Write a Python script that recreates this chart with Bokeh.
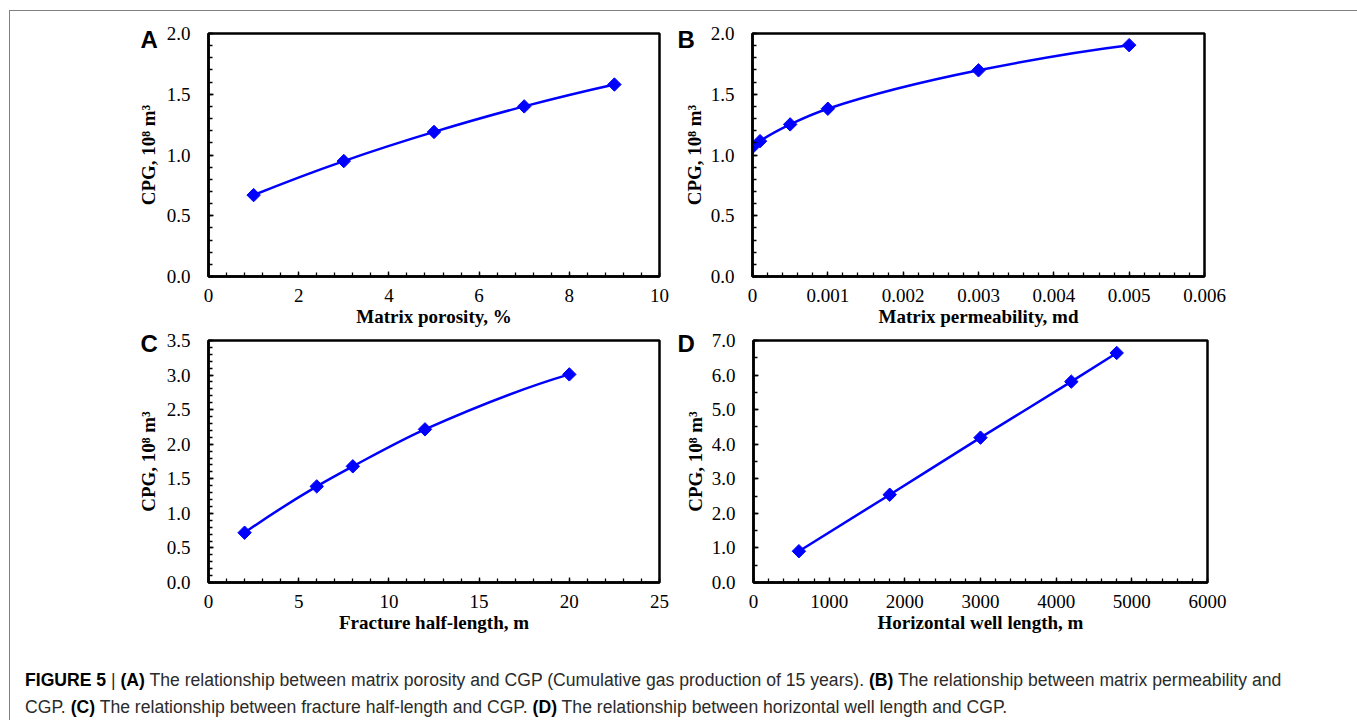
import numpy as np
from bokeh.plotting import figure
from bokeh.layouts import row, column
from bokeh.models import Div, FixedTicker, Range1d, ColumnDataSource, Title
from bokeh.embed import file_html
from bokeh.resources import INLINE

# ---------------- data ----------------
# (A) matrix porosity vs CGP
poro_x = [1, 3, 5, 7, 9]
poro_cpg = [0.67, 0.95, 1.19, 1.40, 1.58]
# (B) matrix permeability vs CGP
perm_x = [0.0, 0.0001, 0.0005, 0.001, 0.003, 0.005]
perm_cpg = [1.065, 1.114, 1.252, 1.381, 1.697, 1.904]
# (C) fracture half-length vs CGP
frac_x = [2, 6, 8, 12, 20]
frac_cpg = [0.72, 1.39, 1.68, 2.215, 3.01]
# (D) horizontal well length vs CGP
well_x = [600, 1800, 3000, 4200, 4800]
well_cpg = [0.905, 2.54, 4.19, 5.81, 6.64]

# ---------------- ticks / labels ----------------
a_xticks = [0, 2, 4, 6, 8, 10]
a_xlabels = ["0", "2", "4", "6", "8", "10"]
a_yticks = [0.0, 0.5, 1.0, 1.5, 2.0]
a_ylabels = ["0.0", "0.5", "1.0", "1.5", "2.0"]
b_xticks = [0.0, 0.001, 0.002, 0.003, 0.004, 0.005, 0.006]
b_xlabels = ["0", "0.001", "0.002", "0.003", "0.004", "0.005", "0.006"]
b_yticks = [0.0, 0.5, 1.0, 1.5, 2.0]
b_ylabels = ["0.0", "0.5", "1.0", "1.5", "2.0"]
c_xticks = [0, 5, 10, 15, 20, 25]
c_xlabels = ["0", "5", "10", "15", "20", "25"]
c_yticks = [0.0, 0.5, 1.0, 1.5, 2.0, 2.5, 3.0, 3.5]
c_ylabels = ["0.0", "0.5", "1.0", "1.5", "2.0", "2.5", "3.0", "3.5"]
d_xticks = [0, 1000, 2000, 3000, 4000, 5000, 6000]
d_xlabels = ["0", "1000", "2000", "3000", "4000", "5000", "6000"]
d_yticks = [0.0, 1.0, 2.0, 3.0, 4.0, 5.0, 6.0, 7.0]
d_ylabels = ["0.0", "1.0", "2.0", "3.0", "4.0", "5.0", "6.0", "7.0"]

x_titles = ["Matrix porosity, %", "Matrix permeability, md",
            "Fracture half-length, m", "Horizontal well length, m"]
y_title = "CPG, 10\u2078 m\u00b3"
letters = ["A", "B", "C", "D"]

caption_parts = [
    ("b", "FIGURE 5"), ("t", " | "), ("b", "(A)"),
    ("t", " The relationship between matrix porosity and CGP (Cumulative gas production of 15 years). "),
    ("b", "(B)"), ("t", " The relationship between matrix permeability and"), ("br", ""),
    ("t", "CGP. "), ("b", "(C)"), ("t", " The relationship between fracture half-length and CGP. "),
    ("b", "(D)"), ("t", " The relationship between horizontal well length and CGP."),
]

BLUE = "#0000FF"
SERIF = "Liberation Serif"


def smooth_segments(xs, ys):
    """Shape-preserving cubic (PCHIP) through the points, drawn as Bezier segments."""
    xs = np.asarray(xs, float); ys = np.asarray(ys, float)
    n = len(xs)
    h = np.diff(xs); d = np.diff(ys) / h
    m = np.zeros(n)
    for i in range(1, n - 1):
        if d[i - 1] * d[i] <= 0:
            m[i] = 0.0
        else:
            w1 = 2 * h[i] + h[i - 1]; w2 = h[i] + 2 * h[i - 1]
            m[i] = (w1 + w2) / (w1 / d[i - 1] + w2 / d[i])

    def end(h0, h1, d0, d1):
        v = ((2 * h0 + h1) * d0 - h0 * d1) / (h0 + h1)
        if v * d0 <= 0:
            return 0.0
        if d0 * d1 <= 0 and abs(v) > 3 * abs(d0):
            return 3 * d0
        return v
    m[0] = end(h[0], h[1], d[0], d[1])
    m[-1] = end(h[-1], h[-2], d[-1], d[-2])
    return dict(x0=list(xs[:-1]), y0=list(ys[:-1]), x1=list(xs[1:]), y1=list(ys[1:]),
                cx0=list(xs[:-1] + h / 3), cy0=list(ys[:-1] + m[:-1] * h / 3),
                cx1=list(xs[1:] - h / 3), cy1=list(ys[1:] - m[1:] * h / 3))


def panel(letter, xs, ys, xticks, xlabels, xminor_n, yticks, ylabels, yminor_n,
          xtitle, width, height, bl, br, bt, bb, ylab_standoff, let_dx, let_standoff):
    p = figure(width=width, height=height,
               x_range=Range1d(xticks[0], xticks[-1]),
               y_range=Range1d(yticks[0], yticks[-1]),
               output_backend="svg", toolbar_location=None,
               min_border_left=bl, min_border_right=br,
               min_border_top=bt, min_border_bottom=bb)
    p.grid.visible = False
    p.outline_line_color = "black"
    p.outline_line_width = 2.5
    p.outline_line_alpha = 1.0

    xminor = list(np.linspace(xticks[0], xticks[-1], (len(xticks) - 1) * xminor_n + 1))
    yminor = list(np.linspace(yticks[0], yticks[-1], (len(yticks) - 1) * yminor_n + 1))
    p.xaxis.ticker = FixedTicker(ticks=xticks, minor_ticks=xminor)
    p.yaxis.ticker = FixedTicker(ticks=yticks, minor_ticks=yminor)
    p.xaxis.major_label_overrides = dict(zip(xticks, xlabels))
    p.yaxis.major_label_overrides = dict(zip(yticks, ylabels))

    for ax in (p.xaxis[0], p.yaxis[0]):
        ax.axis_line_width = 2.5
        ax.axis_line_color = "black"
        ax.major_tick_in = 5
        ax.major_tick_out = 0
        ax.minor_tick_in = 4
        ax.minor_tick_out = 0
        ax.major_tick_line_width = 1.3
        ax.minor_tick_line_width = 1.3
        ax.major_tick_line_color = "black"
        ax.minor_tick_line_color = "black"
        ax.major_label_text_font = SERIF
        ax.major_label_text_font_size = "19px"
        ax.major_label_text_color = "black"
        ax.axis_label_text_font = SERIF
        ax.axis_label_text_font_size = "19px"
        ax.axis_label_text_font_style = "bold"
        ax.axis_label_text_color = "black"
    p.xaxis.axis_label = xtitle
    p.yaxis.axis_label = y_title
    p.xaxis.major_label_standoff = 12
    p.xaxis.axis_label_standoff = 1
    p.yaxis.major_label_standoff = 18
    p.yaxis.axis_label_standoff = ylab_standoff

    seg = ColumnDataSource(smooth_segments(xs, ys))
    p.bezier(x0="x0", y0="y0", x1="x1", y1="y1", cx0="cx0", cy0="cy0",
             cx1="cx1", cy1="cy1", source=seg, line_color=BLUE, line_width=2.5)
    p.scatter(xs, ys, marker="square", size=9.5, angle=np.pi / 4,
              fill_color=BLUE, line_color=BLUE, line_width=1)

    # panel letter (a title placed beside the top of the frame)
    p.add_layout(Title(text=letter, align="left", offset=let_dx, standoff=let_standoff,
                       text_font="Liberation Sans", text_font_style="bold",
                       text_font_size="24px", text_color="black"), "above")
    return p


WL, WR = 665, 677
H1, H2 = 318, 306

pa = panel(letters[0], poro_x, poro_cpg, a_xticks, a_xlabels, 5, a_yticks, a_ylabels, 5,
           x_titles[0], WL, H1, 198, 16, 22, 53, 5, -68, -38)
pb = panel(letters[1], perm_x, perm_cpg, b_xticks, b_xlabels, 5, b_yticks, b_ylabels, 5,
           x_titles[1], WR, H1, 77, 148, 22, 53, 3, -75, -38)
pc = panel(letters[2], frac_x, frac_cpg, c_xticks, c_xlabels, 5, c_yticks, c_ylabels, 5,
           x_titles[2], WL, H2, 198, 16, 11, 53, 5, -68, -32)
pd = panel(letters[3], well_x, well_cpg, d_xticks, d_xlabels, 5, d_yticks, d_ylabels, 2,
           x_titles[3], WR, H2, 78, 145, 11, 53, 3, -76, -32)

html_bits = []
for kind, txt in caption_parts:
    if kind == "b":
        html_bits.append('<b style="color:#000">%s</b>' % txt)
    elif kind == "br":
        html_bits.append("<br>")
    else:
        html_bits.append(txt)
caption = Div(
    text=('<div style="padding:27px 0 0 10px; font-family:\'Liberation Sans\',Arial,sans-serif; '
          'font-size:17.6px; line-height:27px; color:#2b2b2b; white-space:nowrap;">'
          + "".join(html_bits) + "</div>"),
    width=WL + WR, height=85, styles={"overflow": "hidden"})

layout = column(row(pa, pb), row(pc, pd), caption,
                styles={"margin": "10px 0 0 9px",
                        "border-top": "1px solid #808080",
                        "border-left": "1px solid #808080",
                        "border-right": "1px solid #808080"})

open("out.html", "w").write(file_html(layout, INLINE))
